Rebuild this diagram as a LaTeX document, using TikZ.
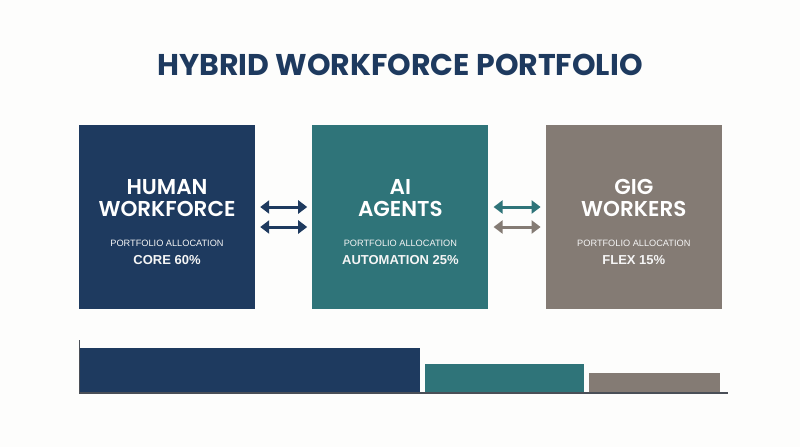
\documentclass[tikz,border=0pt]{standalone}
\usepackage{fontspec}
\setmainfont{Liberation Sans}
\newfontfamily\headfont{Poppins}
\newfontfamily\tilefont{Poppins SemiBold}
\usetikzlibrary{arrows.meta,positioning}
\definecolor{navy}{HTML}{1E3A5F}
\definecolor{teal}{HTML}{2F7479}
\definecolor{stone}{HTML}{847B74}
\definecolor{paper}{HTML}{FDFDFC}
\definecolor{axis}{HTML}{4A4F57}

\begin{document}
\begin{tikzpicture}[x=1pt, y=-1pt,
  tile/.style={draw=none, minimum width=176pt, minimum height=184pt, inner sep=0pt},
  head/.style={text=white, align=center, font=\tilefont\fontsize{21.5}{22}\selectfont},
  alloc/.style={text=white!92!gray, align=center, font=\fontsize{9.2}{18}\selectfont},
  dbl/.style={{Triangle[length=9pt,width=13pt]}-{Triangle[length=9pt,width=13pt]}, line width=3pt, shorten <=5pt, shorten >=5pt},
  >={Stealth[]}]
\fill[paper] (0,0) rectangle (800,447);
\useasboundingbox (0,0) rectangle (800,447);
\node[text=navy, font=\headfont\bfseries\fontsize{30}{30}\selectfont] (title) at (400,65) {HYBRID WORKFORCE PORTFOLIO};
% the three portfolio tiles
\node[tile, fill=navy] (human) at (167,217) {};
\node[tile, fill=teal, right=57pt of human] (ai) {};
\node[tile, fill=stone, right=57pt of ai] (gig) {};
\foreach \t/\a/\b/\c in {human/HUMAN/WORKFORCE/CORE 60\%, ai/AI/AGENTS/AUTOMATION 25\%, gig/GIG/WORKERS/FLEX 15\%}{
  \node[head] (\t-head) at ([yshift=19pt]\t.center) {\a\\\b};
  \node[alloc] (\t-alloc) at ([yshift=-35pt]\t.center) {PORTFOLIO ALLOCATION\\{\bfseries\fontsize{13}{13}\selectfont \c}};
}
\draw[dbl, navy] ([yshift=10pt]human.east) -- ([yshift=10pt]ai.west);
\draw[dbl, navy] ([yshift=-10pt]human.east) -- ([yshift=-10pt]ai.west);
\draw[dbl, teal] ([yshift=10pt]ai.east) -- ([yshift=10pt]gig.west);
\draw[dbl, stone] ([yshift=-10pt]ai.east) -- ([yshift=-10pt]gig.west);
% allocation bars
\fill[navy] (79,348) rectangle (420,393);
\fill[teal] (425,364) rectangle (584,393);
\fill[stone] (589,373) rectangle (720,393);
\draw[axis, line width=0.6pt] (79,340) -- (79,393);
\draw[axis, line width=1.5pt] (79,393) -- (728,393);
\end{tikzpicture}
\end{document}
